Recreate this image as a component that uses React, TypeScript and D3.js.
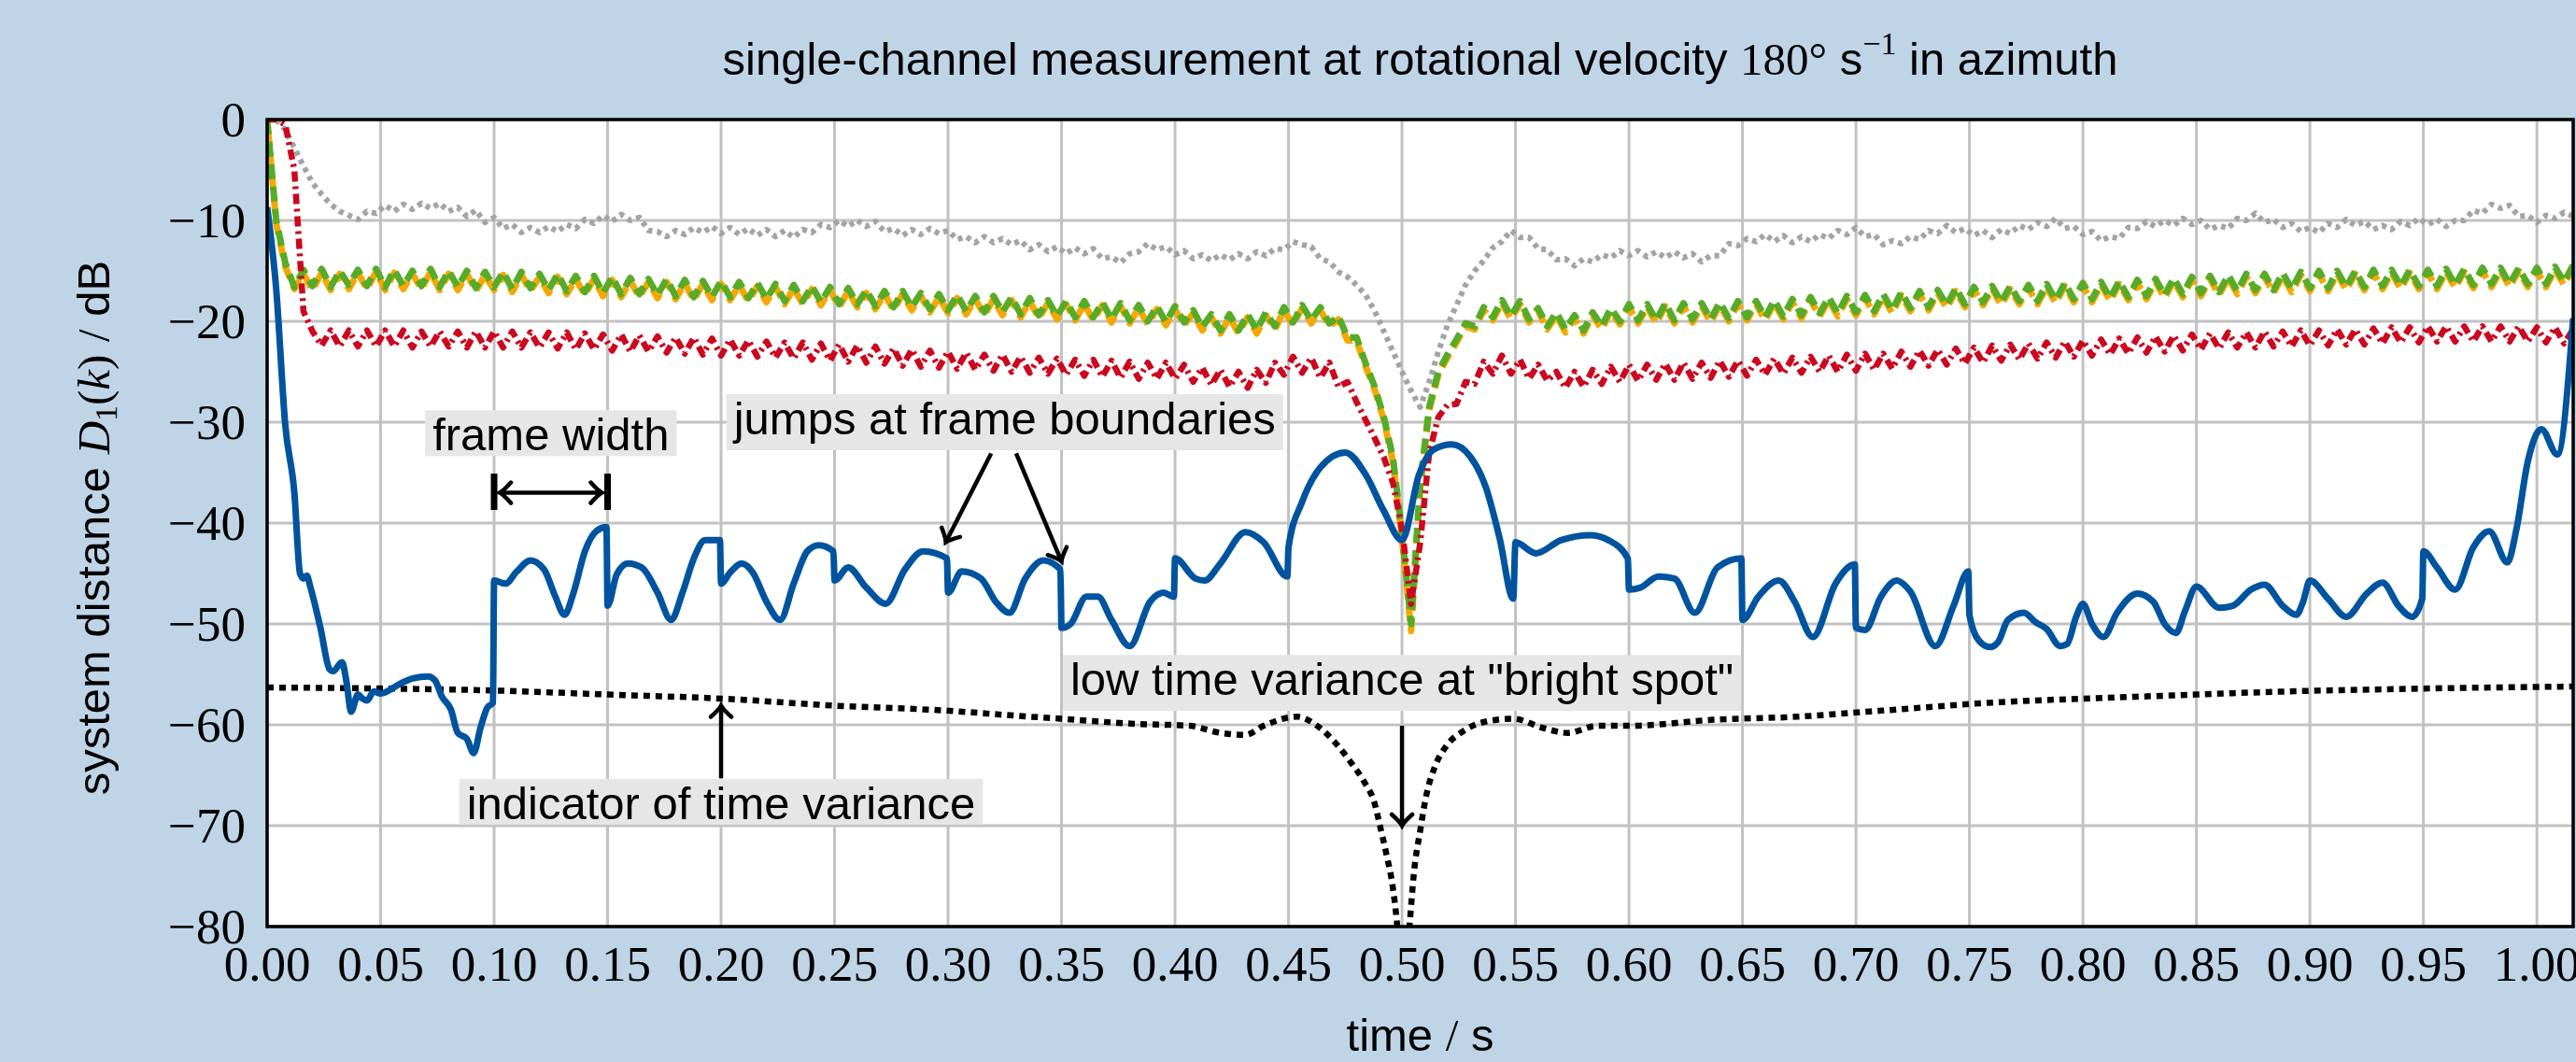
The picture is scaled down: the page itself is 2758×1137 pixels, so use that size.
import { useLayoutEffect, useRef, useState } from "react";
import * as d3 from "d3";

// sampled every 4 ms (noisy reference curves)
const rippleStep = 0.004;

const greyDb = [
  0, 0, -1.0, -2.8, -4.6, -6.3, -7.4, -8.4, -9.1, -9.5,
  -9.9, -9.1, -9.3, -8.5, -9.1, -8.4, -8.9, -8.3, -8.8, -8.3,
  -9.1, -8.7, -9.6, -9.0, -10.2, -9.7, -10.8, -10.4, -11.2, -10.7,
  -11.2, -10.6, -11.1, -10.4, -10.8, -9.9, -10.3, -9.5, -10.1, -9.4,
  -10.0, -9.7, -11.0, -11.1, -11.6, -11.0, -11.4, -10.7, -11.2, -10.6,
  -11.3, -10.7, -11.4, -10.8, -11.5, -10.9, -11.6, -11.0, -11.7, -10.9,
  -11.2, -10.4, -10.7, -10.0, -10.6, -10.0, -10.6, -10.1, -11.1, -10.8,
  -11.5, -10.9, -11.4, -10.8, -11.3, -11.0, -11.9, -11.6, -12.2, -11.6,
  -12.2, -11.8, -12.4, -12.0, -12.9, -12.4, -13.1, -12.6, -13.3, -12.7,
  -13.3, -12.8, -13.8, -13.6, -14.2, -13.3, -13.1, -12.3, -12.9, -12.6,
  -13.4, -13.0, -13.8, -13.4, -14.0, -13.4, -13.9, -13.3, -13.8, -13.1,
  -13.5, -12.8, -12.9, -12.1, -12.4, -12.6, -13.8, -14.1, -15.1, -15.6,
  -16.4, -17.4, -19.0, -21.0, -23.0, -25.0, -26.9, -28.5, -26.0, -23.0,
  -20.4, -18.4, -16.4, -15.0, -14.0, -12.7, -12.1, -11.0, -11.7, -11.7,
  -12.8, -12.9, -13.9, -13.8, -14.5, -13.8, -14.1, -13.4, -13.7, -13.0,
  -13.5, -13.0, -13.6, -13.1, -13.7, -13.1, -13.7, -13.3, -14.1, -13.5,
  -13.5, -12.3, -12.5, -11.8, -12.1, -11.4, -12.1, -11.5, -12.2, -11.6,
  -12.1, -11.4, -11.8, -11.0, -11.4, -10.7, -11.6, -11.4, -12.4, -12.0,
  -12.3, -11.6, -11.9, -11.0, -11.3, -10.5, -11.2, -10.8, -11.5, -11.0,
  -11.7, -10.9, -11.3, -10.5, -10.9, -10.2, -10.6, -9.8, -10.8, -10.6,
  -11.4, -11.1, -12.0, -11.6, -11.8, -10.7, -10.8, -10.1, -10.6, -10.0,
  -10.5, -9.8, -10.4, -10.0, -10.9, -10.5, -10.8, -9.8, -10.0, -9.3,
  -10.2, -9.9, -10.7, -10.3, -11.1, -10.7, -11.2, -10.3, -10.7, -9.9,
  -10.5, -10.1, -10.9, -10.5, -10.9, -10.1, -10.5, -9.8, -10.4, -9.9,
  -10.6, -10.0, -10.0, -9.0, -9.3, -8.4, -8.8, -8.5, -9.6, -9.5,
  -10.2, -9.5, -9.8, -9.2, -9.6,
];

const orangeDb = [
  0, -10.3, -14.6, -16.8, -15.3, -16.9, -15.2, -16.9, -15.3, -16.8,
  -15.2, -16.8, -15.1, -16.9, -15.2, -16.8, -15.3, -16.8, -15.1, -16.9,
  -15.3, -16.9, -15.3, -17.0, -15.4, -16.9, -15.4, -17.1, -15.4, -17.0,
  -15.6, -17.2, -15.6, -17.3, -15.8, -17.4, -15.8, -17.5, -15.9, -17.6,
  -16.0, -17.6, -16.1, -17.7, -16.1, -17.8, -16.2, -17.9, -16.3, -17.9,
  -16.3, -17.9, -16.4, -18.0, -16.5, -18.1, -16.6, -18.3, -16.7, -18.3,
  -16.8, -18.4, -16.9, -18.6, -17.0, -18.6, -17.2, -18.8, -17.3, -18.9,
  -17.3, -18.9, -17.5, -19.1, -17.6, -19.2, -17.7, -19.3, -17.8, -19.4,
  -17.8, -19.4, -17.9, -19.6, -18.0, -19.7, -18.2, -19.8, -18.3, -19.9,
  -18.3, -19.9, -18.4, -20.1, -18.5, -20.2, -18.7, -20.3, -18.8, -20.4,
  -18.8, -20.4, -19.2, -20.9, -19.6, -21.2, -19.6, -21.2, -19.6, -21.2,
  -19.4, -20.8, -18.9, -20.4, -18.7, -20.2, -18.9, -20.5, -19.8, -21.9,
  -21.9, -24.5, -26.8, -29.8, -33.9, -41.5, -50.7, -36.5, -28.8, -25.3,
  -23.6, -22.1, -20.5, -20.8, -18.9, -19.9, -18.2, -19.8, -18.3, -20.1,
  -19.0, -20.8, -19.4, -21.1, -19.7, -21.2, -19.4, -20.8, -19.0, -20.3,
  -18.6, -20.2, -18.6, -20.2, -18.5, -20.2, -18.5, -20.1, -18.5, -20.1,
  -18.4, -20.0, -18.3, -19.9, -18.3, -19.9, -18.2, -19.8, -18.1, -19.7,
  -17.9, -19.5, -17.9, -19.5, -17.8, -19.4, -17.7, -19.3, -17.6, -19.2,
  -17.4, -19.0, -17.3, -18.9, -17.2, -18.7, -17.0, -18.6, -16.9, -18.4,
  -16.8, -18.4, -16.8, -18.3, -16.7, -18.3, -16.6, -18.2, -16.5, -18.1,
  -16.5, -18.1, -16.4, -18.0, -16.3, -17.9, -16.2, -17.8, -16.1, -17.7,
  -16.0, -17.6, -15.9, -17.5, -15.8, -17.4, -15.7, -17.3, -15.6, -17.2,
  -15.6, -17.2, -15.5, -17.1, -15.4, -17.0, -15.3, -17.0, -15.3, -16.9,
  -15.3, -16.9, -15.2, -16.8, -15.2, -16.8, -15.2, -16.8, -15.2, -16.8,
  -15.1, -16.7, -15.1, -16.7, -15.0, -16.6, -15.0, -16.6, -15.0, -16.6,
  -15.0, -16.6, -14.9, -16.4, -14.7,
];

const greenDb = [
  0, -10.0, -14.2, -16.6, -14.9, -16.5, -14.8, -16.6, -15.0, -16.4,
  -14.9, -16.5, -14.8, -16.6, -14.9, -16.5, -15.0, -16.5, -14.8, -16.6,
  -15.0, -16.6, -15.0, -16.7, -15.1, -16.6, -15.1, -16.8, -15.1, -16.7,
  -15.3, -16.9, -15.3, -17.0, -15.5, -17.1, -15.5, -17.2, -15.6, -17.3,
  -15.7, -17.3, -15.8, -17.4, -15.8, -17.5, -15.9, -17.6, -16.0, -17.6,
  -16.0, -17.6, -16.1, -17.7, -16.2, -17.8, -16.3, -18.0, -16.4, -18.0,
  -16.5, -18.1, -16.6, -18.3, -16.7, -18.3, -16.9, -18.5, -17.0, -18.6,
  -17.0, -18.6, -17.2, -18.8, -17.3, -18.9, -17.4, -19.0, -17.5, -19.1,
  -17.5, -19.1, -17.6, -19.3, -17.7, -19.4, -17.9, -19.5, -18.0, -19.6,
  -18.0, -19.6, -18.1, -19.8, -18.2, -19.9, -18.4, -20.0, -18.5, -20.1,
  -18.5, -20.1, -18.9, -20.6, -19.3, -20.9, -19.3, -20.9, -19.3, -20.9,
  -19.1, -20.5, -18.6, -20.1, -18.4, -19.9, -18.6, -20.2, -19.5, -21.6,
  -21.6, -24.2, -26.5, -29.5, -33.5, -41.0, -50.0, -36.0, -28.5, -25.0,
  -23.3, -21.8, -20.2, -20.5, -18.6, -19.6, -17.9, -19.5, -18.0, -19.8,
  -18.7, -20.5, -19.1, -20.8, -19.4, -20.9, -19.1, -20.5, -18.7, -20.0,
  -18.3, -19.9, -18.3, -19.9, -18.2, -19.9, -18.2, -19.8, -18.2, -19.8,
  -18.1, -19.7, -18.0, -19.6, -18.0, -19.6, -17.9, -19.5, -17.8, -19.4,
  -17.6, -19.2, -17.6, -19.2, -17.5, -19.1, -17.4, -19.0, -17.3, -18.9,
  -17.1, -18.7, -17.0, -18.6, -16.9, -18.4, -16.7, -18.3, -16.6, -18.1,
  -16.5, -18.1, -16.5, -18.0, -16.4, -18.0, -16.3, -17.9, -16.2, -17.8,
  -16.2, -17.8, -16.1, -17.7, -16.0, -17.6, -15.9, -17.5, -15.8, -17.4,
  -15.7, -17.3, -15.6, -17.2, -15.5, -17.1, -15.4, -17.0, -15.3, -16.9,
  -15.3, -16.9, -15.2, -16.8, -15.1, -16.7, -15.0, -16.7, -15.0, -16.6,
  -15.0, -16.6, -14.9, -16.5, -14.9, -16.5, -14.9, -16.5, -14.9, -16.5,
  -14.8, -16.4, -14.8, -16.4, -14.7, -16.3, -14.7, -16.3, -14.7, -16.3,
  -14.7, -16.3, -14.6, -16.1, -14.4,
];

const redDb = [
  0, 0, -0.5, -5.0, -19.0, -21.0, -22.4, -20.9, -22.5, -20.9,
  -22.5, -20.9, -22.5, -20.9, -22.5, -20.9, -22.6, -21.0, -22.5, -21.0,
  -22.5, -21.0, -22.6, -21.0, -22.6, -21.0, -22.6, -21.0, -22.6, -21.1,
  -22.6, -21.1, -22.7, -21.1, -22.8, -21.2, -22.8, -21.3, -22.9, -21.3,
  -23.0, -21.4, -23.0, -21.5, -23.1, -21.6, -23.2, -21.6, -23.3, -21.7,
  -23.4, -21.8, -23.4, -21.9, -23.5, -22.0, -23.6, -22.1, -23.7, -22.1,
  -23.8, -22.2, -23.9, -22.3, -24.0, -22.4, -24.1, -22.5, -24.2, -22.7,
  -24.4, -22.8, -24.5, -22.9, -24.6, -23.0, -24.7, -23.1, -24.8, -23.3,
  -24.9, -23.3, -25.0, -23.5, -25.1, -23.6, -25.2, -23.7, -25.3, -23.8,
  -25.4, -23.8, -25.5, -23.9, -25.6, -24.0, -25.7, -24.1, -25.7, -24.1,
  -25.7, -24.3, -26.0, -24.6, -26.3, -24.8, -26.5, -25.0, -26.6, -24.8,
  -26.1, -24.1, -25.3, -23.5, -25.1, -23.6, -25.6, -24.1, -26.5, -26.0,
  -28.0, -29.8, -31.6, -33.5, -36.0, -40.6, -48.0, -42.0, -33.0, -29.5,
  -28.3, -28.2, -26.0, -26.2, -24.0, -25.2, -23.4, -25.2, -23.8, -25.7,
  -24.3, -25.9, -25.0, -26.6, -25.0, -26.5, -24.8, -26.2, -24.5, -26.0,
  -24.3, -25.9, -24.3, -25.8, -24.2, -25.8, -24.1, -25.7, -24.1, -25.6,
  -23.9, -25.5, -23.9, -25.4, -23.8, -25.3, -23.7, -25.2, -23.6, -25.1,
  -23.5, -25.0, -23.4, -25.0, -23.3, -24.9, -23.2, -24.8, -23.2, -24.7,
  -23.0, -24.5, -22.9, -24.4, -22.8, -24.3, -22.7, -24.2, -22.6, -24.1,
  -22.4, -23.9, -22.3, -23.8, -22.2, -23.7, -22.1, -23.6, -22.0, -23.5,
  -21.9, -23.4, -21.8, -23.3, -21.7, -23.2, -21.6, -23.1, -21.5, -23.0,
  -21.4, -22.9, -21.3, -22.8, -21.2, -22.7, -21.1, -22.6, -21.1, -22.6,
  -21.0, -22.5, -21.0, -22.5, -20.9, -22.4, -20.9, -22.4, -20.8, -22.3,
  -20.8, -22.3, -20.7, -22.2, -20.6, -22.1, -20.6, -22.1, -20.5, -22.0,
  -20.5, -22.0, -20.5, -22.0, -20.5, -22.0, -20.5, -22.0, -20.5, -22.0,
  -20.6, -22.1, -20.6, -22.2, -20.8,
];

// [time s, dB]; near-repeated times are the jumps at frame boundaries
const blueTrace: [number, number][] = [
  [0, -8.7], [0.004, -16.8], [0.008, -30.3], [0.012, -37], [0.0145, -45], [0.016, -45.5],
  [0.0175, -45.2], [0.019, -46.3], [0.0235, -50.4], [0.0275, -54.5], [0.029, -54.7],
  [0.033, -53.8], [0.035, -55.8], [0.037, -58.7], [0.04, -57], [0.042, -57.4], [0.044, -57.6],
  [0.047, -56.7], [0.05, -56.9], [0.058, -56], [0.064, -55.4], [0.071, -55.2], [0.074, -55.6],
  [0.077, -57.2], [0.081, -58.5], [0.084, -60.8], [0.088, -61.4], [0.091, -62.8],
  [0.094, -60.3], [0.097, -58.3], [0.0995, -57.8],
  [0.1, -45.7], [0.105, -46], [0.11, -44.8], [0.116, -43.7], [0.122, -44.6], [0.127, -47.3],
  [0.131, -49.1], [0.135, -46.9], [0.14, -42.8], [0.145, -40.8], [0.1495, -40.4],
  [0.15, -48.2], [0.154, -45.1], [0.159, -44], [0.165, -44.4], [0.172, -46.9], [0.178, -49.6],
  [0.183, -46.9], [0.188, -43.5], [0.193, -41.7], [0.1995, -41.7],
  [0.2, -46], [0.204, -44.9], [0.209, -44], [0.214, -44.9], [0.22, -47.8], [0.226, -49.6],
  [0.232, -46], [0.238, -42.8], [0.243, -42.2], [0.2495, -42.8],
  [0.25, -45.7], [0.256, -44.4], [0.264, -46.4], [0.2725, -48], [0.281, -44.6], [0.289, -42.8],
  [0.2995, -43.5],
  [0.3, -46.9], [0.306, -44.8], [0.3145, -45.5], [0.321, -47.8], [0.327, -48.9], [0.334, -45.5],
  [0.342, -43.7], [0.3495, -44.6],
  [0.35, -50.4], [0.354, -50], [0.361, -47.3], [0.366, -47.3], [0.372, -49.6], [0.38, -52.2],
  [0.389, -47.8], [0.395, -46.9], [0.3995, -47.3],
  [0.4, -43.5], [0.409, -45.5], [0.413, -45.7], [0.42, -44], [0.431, -40.9], [0.439, -41.9],
  [0.4495, -45.3],
  [0.45, -42.4], [0.456, -37.9], [0.464, -34.5], [0.475, -33], [0.484, -35.2], [0.492, -38.8],
  [0.5, -41.7], [0.5075, -35.2], [0.514, -32.7], [0.522, -32.2], [0.53, -33.4], [0.537, -36.5],
  [0.543, -41.5], [0.549, -47.5],
  [0.55, -41.9], [0.559, -43], [0.57, -41.7], [0.583, -41.2], [0.591, -41.7], [0.5995, -43.5],
  [0.6, -46.6], [0.605, -46.4], [0.613, -45.3], [0.62, -45.5], [0.629, -48.9], [0.639, -44.4],
  [0.6495, -43.5],
  [0.65, -49.6], [0.657, -47.3], [0.666, -45.7], [0.673, -47.8], [0.681, -51.3], [0.691, -46],
  [0.6995, -44.1],
  [0.7, -50.4], [0.704, -50.6], [0.711, -47.3], [0.718, -45.7], [0.724, -46.8], [0.735, -52.2],
  [0.743, -48.2], [0.7495, -44.8],
  [0.75, -49.1], [0.754, -51.6], [0.759, -52.3], [0.7626, -51.8], [0.767, -49.6], [0.774, -48.9],
  [0.779, -49.8], [0.784, -50.5], [0.79, -52.2], [0.793, -52], [0.797, -49.3], [0.8, -48],
  [0.804, -50], [0.809, -51.3], [0.815, -48.9], [0.824, -47], [0.831, -47.8], [0.836, -50],
  [0.841, -50.9], [0.845, -48.7], [0.85, -46.3], [0.86, -48.4], [0.866, -48.2], [0.874, -46.6],
  [0.88, -46.1], [0.888, -48.2], [0.894, -49.1], [0.897, -47.8], [0.9, -45.7], [0.908, -47.5],
  [0.916, -49.3], [0.925, -47], [0.932, -45.9], [0.939, -48.2], [0.945, -49.3], [0.9495, -47.5],
  [0.95, -42.8], [0.956, -44.4], [0.964, -46.6], [0.972, -42.4], [0.979, -40.8], [0.987, -43.9],
  [0.991, -40.6], [0.996, -33.9], [1.002, -30.7], [1.009, -33.2], [1.016, -19.7],
];

// indicator of time variance (black dotted)
const varianceTrace: [number, number][] = [
  [0, -56.3], [0.05, -56.4], [0.1, -56.6], [0.15, -57], [0.2, -57.4], [0.25, -58.1], [0.3, -58.6],
  [0.33, -59.1], [0.35, -59.4], [0.382, -59.9], [0.4065, -60.1], [0.42, -60.8], [0.431, -61],
  [0.439, -60.1], [0.4538, -59.2], [0.462, -60], [0.4703, -61.7], [0.4777, -63.8], [0.4832, -65.6],
  [0.4878, -67.7], [0.4905, -70.2], [0.4933, -73], [0.496, -76.2], [0.4978, -79.7], [0.4995, -85],
  [0.5015, -85], [0.5034, -79.7], [0.5052, -74.8], [0.508, -70.5], [0.5107, -67], [0.5144, -64.2],
  [0.5199, -62], [0.5272, -60.6], [0.5365, -59.7], [0.549, -59.4], [0.562, -60.3], [0.573, -60.8],
  [0.586, -60.1], [0.6005, -60.1], [0.637, -59.5], [0.674, -59.2], [0.705, -58.7], [0.76, -57.8],
  [0.8257, -57.2], [0.889, -56.7], [0.952, -56.4], [1.016, -56.2],
];

const W = 2758;
const H = 1137;
const plot = { left: 286, right: 2755, top: 128, bottom: 992 };
const SANS = "'Liberation Sans', Arial, sans-serif";
const SERIF = "'Liberation Serif', 'Times New Roman', serif";

const x = d3.scaleLinear().domain([0, 1.016]).range([plot.left, plot.right]);
const y = d3.scaleLinear().domain([-80, 0]).range([plot.bottom, plot.top]);

const pairLine = d3.line<[number, number]>().x(d => x(d[0])).y(d => y(d[1])).curve(d3.curveMonotoneX);
const rippleLine = d3.line<number>().x((_, i) => x(i * rippleStep)).y(d => y(d));

function Note({ cx, base, text, deep }: { cx: number; base: number; text: string; deep?: boolean }) {
  const ref = useRef<SVGTextElement | null>(null);
  const [w, setW] = useState(0);
  useLayoutEffect(() => {
    if (ref.current) setW(ref.current.getComputedTextLength());
  }, [text]);
  return (
    <g>
      {w > 0 && (
        <rect x={cx - w / 2 - 8} y={base - 43} width={w + 16} height={deep ? 60 : 49} fill="#e6e6e6" />
      )}
      <text ref={ref} x={cx} y={base} textAnchor="middle" fontFamily={SANS} fontSize={49}>
        {text}
      </text>
    </g>
  );
}

export default function App() {
  const xTicks = x.ticks(20);
  const yTicks = y.ticks(8);

  return (
    <div>
      <style>{"body{margin:0}"}</style>
      <svg width={W} height={H} style={{ display: "block" }}>
        <defs>
          <clipPath id="plotClip">
            <rect x={plot.left} y={plot.top} width={plot.right - plot.left} height={plot.bottom - plot.top} />
          </clipPath>
          <marker id="tip" viewBox="-16 -14 20 28" refX={0} refY={0} markerWidth={20} markerHeight={28}
            markerUnits="userSpaceOnUse" orient="auto-start-reverse">
            <path d="M-12,-11 Q-4,-2 0,0 Q-4,2 -12,11" fill="none" stroke="#000" strokeWidth={4.5} strokeLinecap="round" />
          </marker>
        </defs>

        <rect width={W} height={H} fill="#bfd4e7" />
        <rect x={plot.left} y={plot.top} width={plot.right - plot.left} height={plot.bottom - plot.top} fill="#fff" />

        {/* grid */}
        <g stroke="#c2c2c2" strokeWidth={3}>
          {xTicks.map(t => (
            <line key={"gx" + t} x1={x(t)} x2={x(t)} y1={plot.top} y2={plot.bottom} />
          ))}
          {yTicks.map(t => (
            <line key={"gy" + t} x1={plot.left} x2={plot.right} y1={y(t)} y2={y(t)} />
          ))}
        </g>

        {/* curves */}
        <g clipPath="url(#plotClip)" fill="none" strokeLinejoin="round">
          <path d={rippleLine(greyDb) ?? ""} stroke="#a2a4a5" strokeWidth={6} strokeDasharray="5 5" />
          <path d={rippleLine(orangeDb) ?? ""} stroke="#f6a800" strokeWidth={7} strokeDasharray="16 8" strokeDashoffset={12} />
          <path d={rippleLine(greenDb) ?? ""} stroke="#57ab27" strokeWidth={7} strokeDasharray="16 8" />
          <path d={rippleLine(redDb) ?? ""} stroke="#cc071e" strokeWidth={6.5} strokeDasharray="11 5 3 5" />
          <path d={pairLine(varianceTrace) ?? ""} stroke="#000" strokeWidth={6.5} strokeDasharray="7 6" />
          <path d={pairLine(blueTrace) ?? ""} stroke="#00549f" strokeWidth={7} />
        </g>

        {/* frame */}
        <rect x={plot.left} y={plot.top} width={plot.right - plot.left} height={plot.bottom - plot.top}
          fill="none" stroke="#000" strokeWidth={3.5} />

        {/* tick labels */}
        <g fontFamily={SERIF} fontSize={53} fill="#000">
          {xTicks.map(t => (
            <text key={"tx" + t} x={x(t)} y={1050} textAnchor="middle">{t.toFixed(2)}</text>
          ))}
          {yTicks.map(t => (
            <text key={"ty" + t} x={263} y={y(t) + 18} textAnchor="end">
              {t === 0 ? "0" : "\u2212" + Math.abs(t)}
            </text>
          ))}
        </g>

        {/* titles */}
        <text x={(plot.left + plot.right) / 2} y={80} textAnchor="middle" fontFamily={SANS} fontSize={49}>
          single-channel measurement at rotational velocity{" "}
          <tspan fontFamily={SERIF}>180°</tspan> s
          <tspan fontFamily={SERIF} fontSize={34} dy={-22}>{"\u22121"}</tspan>
          <tspan dy={22}> in azimuth</tspan>
        </text>
        <text x={(plot.left + plot.right) / 2} y={1125} textAnchor="middle" fontFamily={SANS} fontSize={49}>
          time <tspan fontFamily={SERIF}>/</tspan> s
        </text>
        <text transform={`translate(117,${(plot.top + plot.bottom) / 2 + 5}) rotate(-90)`} textAnchor="middle"
          fontFamily={SANS} fontSize={49}>
          system distance{" "}
          <tspan fontFamily={SERIF} fontStyle="italic">D</tspan>
          <tspan fontFamily={SERIF} fontSize={34} dy={8}>1</tspan>
          <tspan fontFamily={SERIF} dy={-8}>(</tspan>
          <tspan fontFamily={SERIF} fontStyle="italic">k</tspan>
          <tspan fontFamily={SERIF}>)</tspan> <tspan fontFamily={SERIF}>/</tspan> dB
        </text>

        {/* annotations */}
        <Note cx={x(0.125)} base={y(-32.8)} text="frame width" />
        <line x1={x(0.1)} x2={x(0.1)} y1={y(-35.1)} y2={y(-38.7)} stroke="#000" strokeWidth={7} />
        <line x1={x(0.15)} x2={x(0.15)} y1={y(-35.1)} y2={y(-38.7)} stroke="#000" strokeWidth={7} />
        <line x1={x(0.1) + 6} x2={x(0.15) - 6} y1={y(-37)} y2={y(-37)} stroke="#000" strokeWidth={4.5}
          markerStart="url(#tip)" markerEnd="url(#tip)" />

        <Note cx={x(0.325)} base={y(-31.2)} text="jumps at frame boundaries" deep />
        <line x1={x(0.319)} y1={y(-33.1)} x2={x(0.299)} y2={y(-41.9)} stroke="#000" strokeWidth={4.5} markerEnd="url(#tip)" />
        <line x1={x(0.33)} y1={y(-33.1)} x2={x(0.35)} y2={y(-43.8)} stroke="#000" strokeWidth={4.5} markerEnd="url(#tip)" />

        <Note cx={x(0.5)} base={y(-57.05)} text={'low time variance at "bright spot"'} deep />
        <line x1={x(0.5)} y1={y(-60.1)} x2={x(0.5)} y2={y(-70)} stroke="#000" strokeWidth={4.5} markerEnd="url(#tip)" />

        <Note cx={x(0.2)} base={y(-69.35)} text="indicator of time variance" />
        <line x1={x(0.2)} y1={y(-65.3)} x2={x(0.2)} y2={y(-58.1)} stroke="#000" strokeWidth={4.5} markerEnd="url(#tip)" />
      </svg>
    </div>
  );
}
